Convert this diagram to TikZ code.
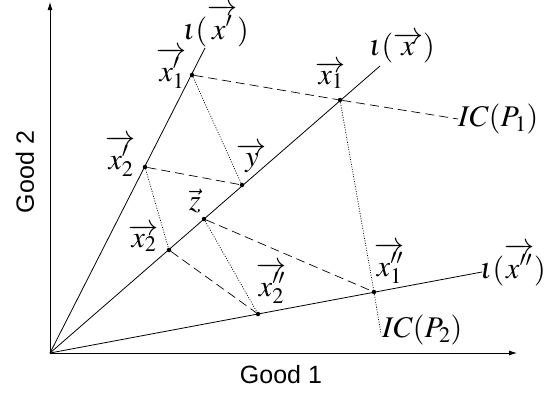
\documentclass[tikz,border=0pt]{standalone}
\usepackage{mathptmx}
\usepackage{fontspec}
\setmainfont{Liberation Serif}
\setsansfont{Liberation Sans}
\usetikzlibrary{arrows.meta,positioning}

\begin{document}
\begin{tikzpicture}[x=1pt,y=-1pt,
  pt/.style={circle,fill,inner sep=0pt,minimum size=4.5pt},
  lbl/.style={font=\fontsize{30}{34}\selectfont,inner sep=0pt},
  axlbl/.style={font=\sffamily\fontsize{25}{30}\selectfont,inner sep=0pt},
  axis/.style={-{Latex[length=8pt,width=5pt]},line width=0.8pt},
  ray/.style={line width=0.8pt},
  icone/.style={dash pattern=on 9pt off 5pt,line width=0.7pt},
  ictwo/.style={dash pattern=on 1pt off 1.5pt,line width=0.7pt}
]
  \useasboundingbox (0,0) rectangle (546,394);

  % === Axes and rays ===
  \coordinate (O) at (50,353);
  \coordinate (ytip) at (50,2);
  \coordinate (xtip) at (517,353);
  \coordinate (rayp) at (205,48);
  \coordinate (ray) at (380,66);
  \coordinate (raypp) at (482,272);
  \draw[axis] (O) -- (ytip);
  \draw[axis] (O) -- (xtip);
  \draw[ray] (O) -- (rayp);
  \draw[ray] (O) -- (ray);
  \draw[ray] (O) -- (raypp);

  % === Bundles ===
  \node[pt] (x1p) at (192,75) {};
  \node[pt] (x2p) at (145,167) {};
  \node[pt] (x1) at (340,100) {};
  \node[pt] (y) at (242,185) {};
  \node[pt] (z) at (204,219) {};
  \node[pt] (x2) at (169,250) {};
  \node[pt] (x1pp) at (374,292) {};
  \node[pt] (x2pp) at (258,314) {};
  \coordinate (ic1) at (458,119);
  \coordinate (ic2) at (381,334);

  % indifference curves
  \draw[icone] (x1p) -- (x1) -- (ic1);
  \draw[icone] (x2p) -- (y);
  \draw[icone] (z) -- (x1pp);
  \draw[icone] (x2) -- (x2pp);
  \draw[ictwo] (x1) -- (x1pp) -- (ic2);
  \draw[ictwo] (x1p) -- (y);
  \draw[ictwo] (x2p) -- (x2);
  \draw[ictwo] (z) -- (x2pp);

  % === Labels ===
  \node[lbl] (lrayp) at (216,26) {$\iota(\overrightarrow{x'})$};
  \node[lbl] (lray) at (402,48) {$\iota(\overrightarrow{x})$};
  \node[lbl] (lraypp) at (513,265) {$\iota(\overrightarrow{x''})$};
  \node[lbl] (lx1p) at (172,68) {$\overrightarrow{x'_1}$};
  \node[lbl] (lx2p) at (121,156) {$\overrightarrow{x'_2}$};
  \node[lbl] (ly) at (252,158) {$\overrightarrow{y}$};
  \node[lbl] (lx1) at (331,75) {$\overrightarrow{x_1}$};
  \node[lbl] (lz) at (195,201) {$\vec{z}$};
  \node[lbl] (lx2) at (144,238) {$\overrightarrow{x_2}$};
  \node[lbl] (lx2pp) at (272,283) {$\overrightarrow{x''_2}$};
  \node[lbl] (lx1pp) at (390,263) {$\overrightarrow{x''_1}$};
  \node[lbl,anchor=west] (lic1) at (ic1) {$IC(P_1)$};
  \node[lbl,anchor=west] (lic2) at (382,330) {$IC(P_2)$};
  \node[axlbl] (gone) at (281,375) {Good 1};
  \node[axlbl,rotate=90] (gtwo) at (25,172) {Good 2};
\end{tikzpicture}
\end{document}
